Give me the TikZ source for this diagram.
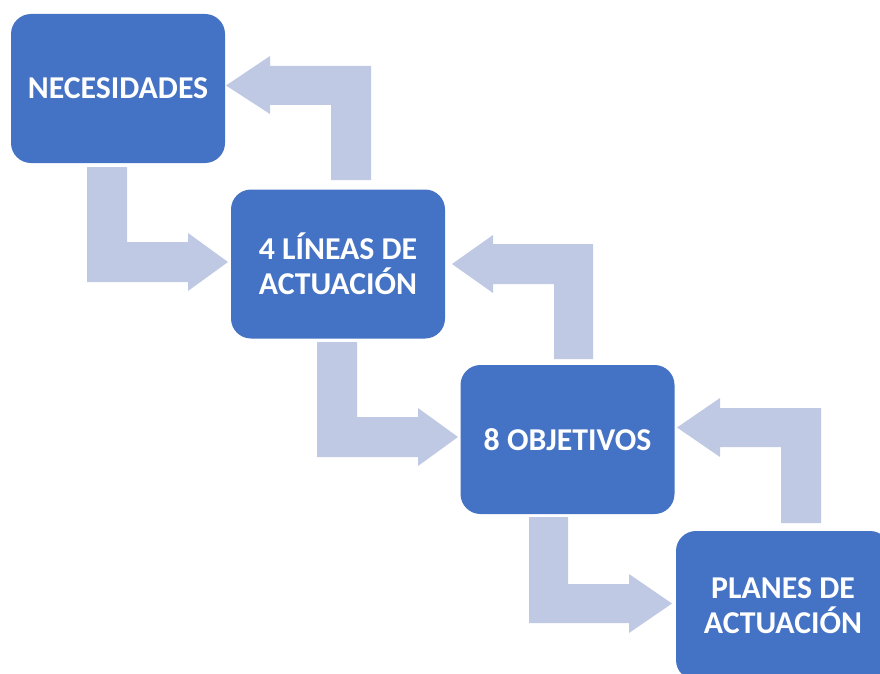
\documentclass[tikz,border=0pt]{standalone}
\usepackage{fontspec}
\setmainfont{Carlito}
\definecolor{boxblue}{RGB}{68,114,196}
\definecolor{arrowgray}{RGB}{191,201,228}
\begin{document}
\begin{tikzpicture}[x=1pt,y=-1pt,
  stagebox/.style={fill=boxblue, draw=none, rounded corners=20pt, minimum width=214pt, minimum height=149pt, inner sep=0pt, align=center, text=white, font=\fontsize{31.8}{35.5}\selectfont\bfseries},
  blockarrow/.style={fill=arrowgray, draw=none}]
\useasboundingbox (0,0) rectangle (880,674);
\clip (0,0) rectangle (880,674);
% block arrows
\fill[blockarrow] (87,167) -- (127,167) -- (127,242) -- (188,242) -- (188,233) -- (228,262) -- (188,291) -- (188,282) -- (87,282) -- cycle;
\fill[blockarrow] (331,180) -- (331,105) -- (270,105) -- (270,114) -- (226,85.5) -- (270,56) -- (270,66) -- (371,66) -- (371,180) -- cycle;
\fill[blockarrow] (317,342) -- (357,342) -- (357,417) -- (418,417) -- (418,408) -- (458,437) -- (418,466) -- (418,457) -- (317,457) -- cycle;
\fill[blockarrow] (554,359) -- (554,284) -- (493,284) -- (493,293) -- (452,264) -- (493,235) -- (493,244) -- (593,244) -- (593,359) -- cycle;
\fill[blockarrow] (529,517) -- (568,517) -- (568,584) -- (629,584) -- (629,574) -- (672,603.5) -- (629,633) -- (629,623) -- (529,623) -- cycle;
\fill[blockarrow] (781,523) -- (781,447) -- (720,447) -- (720,457) -- (677,427.5) -- (720,398) -- (720,408) -- (821,408) -- (821,523) -- cycle;
% boxes
\node[stagebox] (nec) at (118,88.5) {NECESIDADES};
\node[stagebox] (lin) at (338,264) {4 LÍNEAS DE\\ACTUACIÓN};
\node[stagebox] (obj) at (567.5,439.5) {8 OBJETIVOS};
\node[stagebox] (pla) at (783,605.5) {PLANES DE\\ACTUACIÓN};
\end{tikzpicture}
\end{document}
